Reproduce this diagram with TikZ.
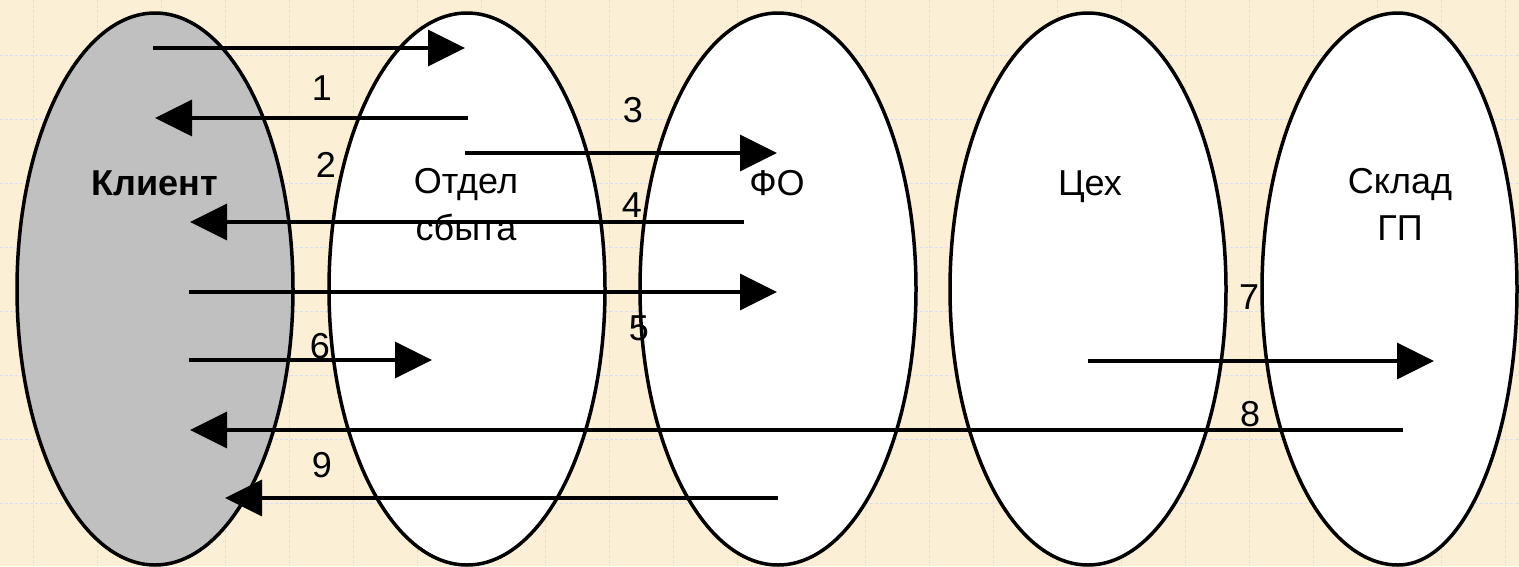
\documentclass[tikz,border=0pt]{standalone}
\usepackage{fontspec}
\setmainfont{Liberation Sans}
\usetikzlibrary{shapes.geometric,arrows.meta}
\definecolor{cream}{HTML}{FBEFD6}
\definecolor{gridc}{HTML}{D9DFF2}
\definecolor{clientgray}{HTML}{C0C0C0}
\begin{document}
\begin{tikzpicture}[x=1pt,y=-1pt,
  oval/.style={draw=black, line width=3.5pt, fill=white, ellipse, inner sep=0pt,
    minimum width=276pt, minimum height=552pt},
  flow/.style={line width=3.2pt, -{Triangle[length=37pt,width=36pt]}},
  lbl/.style={font=\fontsize{36}{47}\selectfont, inner sep=0pt},
  num/.style={font=\fontsize{36}{47}\selectfont, inner sep=0pt, anchor=center}]
% background
\fill[cream] (0,0) rectangle (1519,566);
\useasboundingbox (0,0) rectangle (1519,566);
\foreach \gx in {33,97,...,1519} \draw[gridc, line width=1pt, dash pattern=on 3pt off 2pt] (\gx,0) -- (\gx,566);
\foreach \gy in {55,119,...,566} \draw[gridc, line width=1pt, dash pattern=on 3pt off 2pt] (0,\gy) -- (1519,\gy);
% ovals
\node[oval, fill=clientgray] (klient) at (155,289) {};
\node[oval] (sbyt) at (467,289) {};
\node[oval] (fo) at (778,289) {};
\node[oval] (ceh) at (1088,289) {};
\draw[line width=3.5pt, fill=white] (1398,13) arc[start angle=270, end angle=90, x radius=136, y radius=276]
  arc[start angle=90, end angle=-90, x radius=119, y radius=276] -- cycle;
\coordinate (sklad) at (1398,289);
% texts
\node[lbl, anchor=base, font=\fontsize{36}{47}\selectfont\bfseries] (tklient) at (155,195) {Клиент};
\node[lbl, anchor=base, align=center] (tsbyt) at (466,240) {Отдел\\сбыта};
\node[lbl, anchor=base] (tfo) at (777,195) {ФО};
\node[lbl, anchor=base] (tceh) at (1090,195) {Цех};
\node[lbl, anchor=base, align=center] (tsklad) at (1400,240) {Склад\\ГП};
% arrow end points
\coordinate (a1s) at (153,48);  \coordinate (a1e) at (465,48);
\coordinate (a2s) at (468,118); \coordinate (a2e) at (155,118);
\coordinate (a3s) at (465,153); \coordinate (a3e) at (777,153);
\coordinate (a4s) at (744,222); \coordinate (a4e) at (190,222);
\coordinate (a5s) at (189,292); \coordinate (a5e) at (777,292);
\coordinate (a6s) at (189,360); \coordinate (a6e) at (432,360);
\coordinate (a7s) at (1088,361); \coordinate (a7e) at (1434,361);
\coordinate (a8s) at (1403,430); \coordinate (a8e) at (190,430);
\coordinate (a9s) at (778,498); \coordinate (a9e) at (225,498);
\foreach \i in {1,...,9} \draw[flow] (a\i s) -- (a\i e);
% numbers
\node[num] (n1) at (322,88) {1};
\node[num] (n2) at (326,165) {2};
\node[num] (n3) at (633,110) {3};
\node[num] (n4) at (632,205) {4};
\node[num] (n5) at (639,328) {5};
\node[num] (n6) at (320,346) {6};
\node[num] (n7) at (1249,297) {7};
\node[num] (n8) at (1250,414) {8};
\node[num] (n9) at (322,465) {9};
\end{tikzpicture}
\end{document}
